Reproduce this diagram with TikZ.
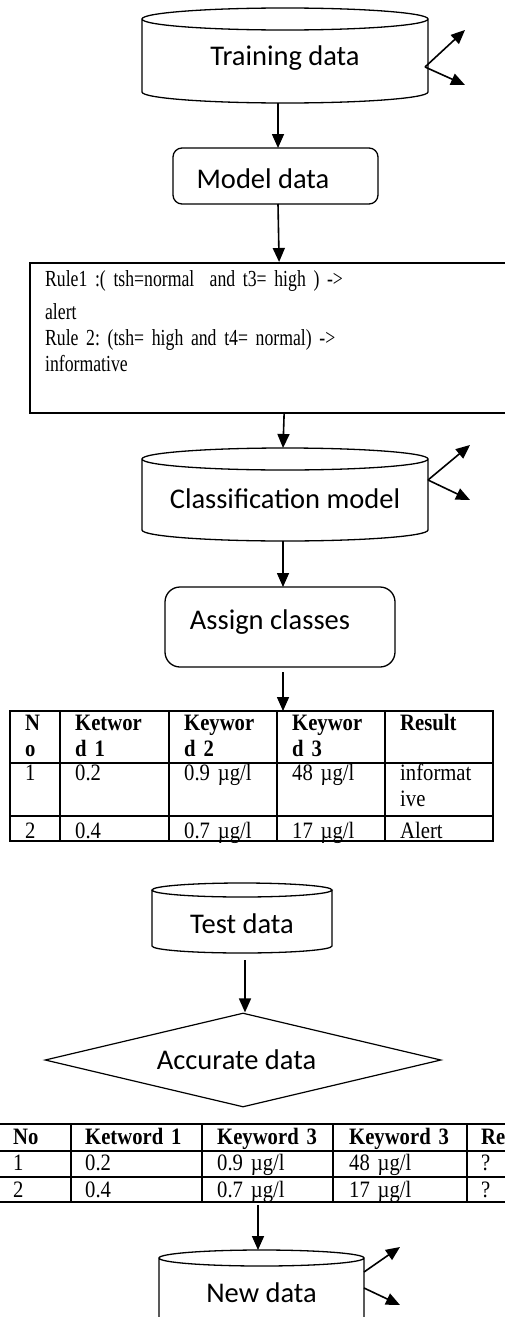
\documentclass[tikz,border=0pt]{standalone}
\usepackage{fontspec}
\setmainfont{Liberation Serif}
\newfontfamily\calibfont{Carlito}
\newfontfamily\rulefont[FakeStretch=0.77]{Liberation Serif}
\newfontfamily\tabfont[FakeStretch=0.88]{Liberation Serif}
\usetikzlibrary{arrows.meta,shapes.geometric,calc}

\protected\def\rulesize{\rulefont\fontsize{23}{26}\selectfont\fontdimen2\font=4.4pt\relax\frenchspacing}

\newcommand\dbdraw[2]{%
  \draw[line width=1.3pt] let \p1=(#1.north west), \p2=(#1.south east), \n1={(\x2-\x1)/2} in
    (\x1+\n1,\y1-#2) ellipse [x radius=\n1, y radius=#2]
    (\x1,\y1-#2) -- (\x1,\y2+#2) arc [start angle=180, end angle=360, x radius=\n1, y radius=#2] -- (\x2,\y1-#2);}

\begin{document}
\begin{tikzpicture}[x=1pt, y=-1pt,
  arr/.style={line width=1.6pt, -{Triangle[length=14pt,width=12pt]}},
  db/.style={inner sep=0pt, outer sep=0pt, anchor=base, font=\calibfont\fontsize{28.5}{30}\selectfont},
  proc/.style={db, draw, line width=1.3pt},
  tabline/.style={line width=1.8pt},
  thead/.style={anchor=base west, inner sep=0pt, text width=130pt, align=left, font=\tabfont\fontsize{23.5}{26}\selectfont\bfseries},
  tcell/.style={thead, font=\tabfont\fontsize{23.5}{26}\selectfont}]
  \useasboundingbox (0,0) rectangle (505,1317);
  \clip (0,0) rectangle (505,1317);

  \node[db, minimum width=286pt, text height=57pt, text depth=38pt] (train) at (285,65) {Training data};
  \dbdraw{train}{11pt}
  \node[proc, rounded corners=9pt, minimum width=205pt, text height=40pt, text depth=16pt] (model) at (275.5,188) {Model data\hspace*{25pt}};
  \node[draw, line width=2.2pt, anchor=north west, inner xsep=15pt, inner ysep=10pt, text width=470pt, align=left,
    text height=13pt, text depth=117pt, font=\rulesize] (rules) at (29,262)
    {Rule1 :( tsh=normal~ and t3= high ) ->\\[7pt]alert\\Rule 2: (tsh= high and t4= normal) ->\\informative};
  \node[db, minimum width=286pt, text height=60pt, text depth=33pt] (class) at (285,508) {Classification model};
  \dbdraw{class}{11pt}
  \node[proc, rounded corners=15pt, minimum width=230pt, text height=42pt, text depth=38pt] (assign) at (280,629) {Assign classes\hspace*{20pt}};

  \node[draw, line width=1.8pt, inner sep=0pt, outer sep=0pt, minimum width=483pt, minimum height=130pt, anchor=north west] (tabA) at (10,711) {};
  \foreach \x in {60,169,277,385}
  \draw[tabline] (\x,711) -- (\x,841);
  \foreach \y in {763,816}
  \draw[tabline] (10,\y) -- (493,\y);
  \foreach \x/\txt [count=\i] in {25/{N\\o},75/{Ketwor\\d 1},184/{Keywor\\d 2},292/{Keywor\\d 3},400/Result}
  \node[thead] (ha\i) at (\x,730) {\txt};
  \foreach \x/\txt [count=\i] in {25/1,75/0.2,184/{0.9 µg/l},292/{48 µg/l},400/{informat\\ive}}
  \node[tcell] (ra\i) at (\x,780) {\txt};
  \foreach \x/\txt [count=\i] in {25/2,75/0.4,184/{0.7 µg/l},292/{17 µg/l},400/Alert}
  \node[tcell] (sa\i) at (\x,838) {\txt};

  \node[db, minimum width=180pt, text height=50pt, text depth=20pt] (test) at (242,933) {Test data};
  \dbdraw{test}{7pt}
  \node[diamond, draw, aspect=4.21, line width=1.2pt, minimum width=396pt, minimum height=94pt, inner sep=0pt,
    font=\calibfont\fontsize{28.5}{30}\selectfont] (acc) at (243,1060) {Accurate data\hspace*{13pt}};

  \node[draw, line width=1.8pt, inner sep=0pt, outer sep=0pt, minimum width=601pt, minimum height=78pt, anchor=north west] (tabB) at (-1,1124) {};
  \foreach \x in {71,202,333,467}
  \draw[tabline] (\x,1124) -- (\x,1202);
  \foreach \y in {1151,1177}
  \draw[tabline] (-1,\y) -- (600,\y);
  \foreach \x/\txt [count=\i] in {13/No,85/Ketword 1,217/Keyword 3,349/Keyword 3,481/Result}
  \node[thead] (hb\i) at (\x,1144) {\txt};
  \foreach \x/\txt [count=\i] in {13/1,85/0.2,217/{0.9 µg/l},349/{48 µg/l},481/?}
  \node[tcell] (rb\i) at (\x,1170) {\txt};
  \foreach \x/\txt [count=\i] in {13/2,85/0.4,217/{0.7 µg/l},349/{17 µg/l},481/?}
  \node[tcell] (sb\i) at (\x,1197) {\txt};

  \node[db, minimum width=205pt, text height=52pt, text depth=24pt] (new) at (261.5,1302) {New data};
  \dbdraw{new}{8pt}

  \coordinate (trainup) at (465,30);
  \coordinate (traindown) at (465,85);
  \coordinate (classup) at (470,445);
  \coordinate (classdown) at (470,500);
  \coordinate (newup) at (400,1247);
  \coordinate (newdown) at (400,1305);

  \draw[arr] ([xshift=-7pt]train.south) -- ([xshift=2.5pt]model.north);
  \draw[arr] ([xshift=2.5pt]model.south) -- ([xshift=-1pt]rules.north);
  \draw[arr] ([xshift=4pt]rules.south) -- ([xshift=-2pt]class.north);
  \draw[arr] ([xshift=-2pt]class.south) -- ([xshift=3pt]assign.north);
  \draw[arr, shorten <=5pt] ([xshift=3pt]assign.south) -- ([xshift=31.5pt]tabA.north);
  \draw[arr, shorten <=7pt] ([xshift=3pt]test.south) -- ([xshift=2pt]acc.north);
  \draw[arr, shorten <=3pt] ([xshift=-41.5pt]tabB.south) -- ([xshift=-3.5pt]new.north);

  \draw[arr] ([xshift=-3pt,yshift=-11.5pt]train.east) -- (trainup);
  \draw[arr] ([xshift=-3pt,yshift=-11.5pt]train.east) -- (traindown);
  \draw[arr] ([yshift=14.5pt]class.east) -- (classup);
  \draw[arr] ([yshift=14.5pt]class.east) -- (classdown);
  \draw[arr] ([yshift=16pt]new.east) -- (newup);
  \draw[arr] (new.east) -- (newdown);
\end{tikzpicture}
\end{document}
